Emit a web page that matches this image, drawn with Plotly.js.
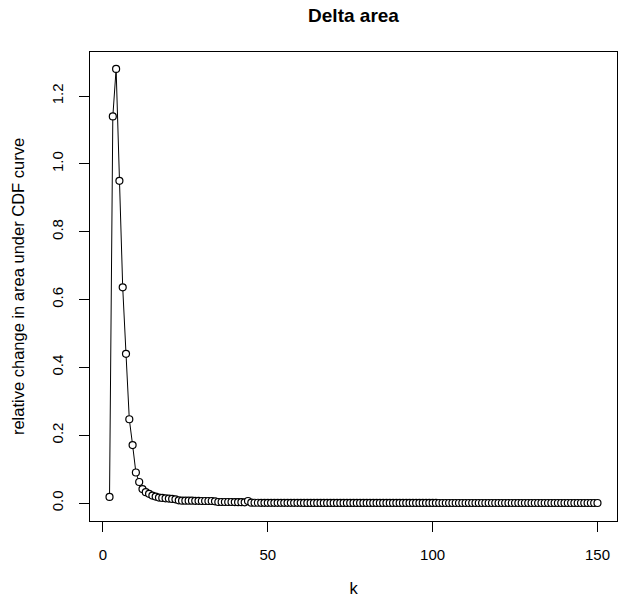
<!DOCTYPE html>
<html>
<head>
<meta charset="utf-8">
<script src="https://cdn.plot.ly/plotly-3.0.1.min.js"></script>
<style>html,body{margin:0;padding:0;background:#fff;}#chart{width:628px;height:606px;}</style>
</head>
<body>
<div id="chart"></div>
<script>
// k values 2..150
var kStart = 2, kEnd = 150;
var kValues = [];
for (var i = kStart; i <= kEnd; i++) kValues.push(i);

// relative change in area under CDF curve
var deltaArea = [
  0.018, 1.14, 1.28, 0.95, 0.636, 0.44, 0.247, 0.171, 0.09, 0.062,
  0.041, 0.032, 0.027, 0.022, 0.019, 0.016, 0.015, 0.014, 0.013, 0.012,
  0.011, 0.008, 0.007, 0.007, 0.007, 0.007, 0.0065, 0.0065, 0.006, 0.006,
  0.006, 0.006, 0.005, 0.003, 0.003, 0.003, 0.003, 0.003, 0.0028, 0.0026,
  0.0024, 0.002, 0.006, 0.001, 0.0008, 0.0008, 0.0007, 0.0007, 0.0007, 0.0006,
  0.0006, 0.0006, 0.0006, 0.0005, 0.0005, 0.0005, 0.0005, 0.0005, 0.0005, 0.0004,
  0.0004, 0.0004, 0.0004, 0.0004, 0.0004, 0.0004, 0.0004, 0.0003, 0.0003, 0.0003,
  0.0003, 0.0003, 0.0003, 0.0003, 0.0003, 0.0003, 0.0003, 0.0003, 0.0003, 0.0002,
  0.0002, 0.0002, 0.0002, 0.0002, 0.0002, 0.0002, 0.0002, 0.0002, 0.0002, 0.0002,
  0.0002, 0.0002, 0.0002, 0.0002, 0.0002, 0.0002, 0.0002, 0.0002, 0.0002, 0.0002,
  0.0001, 0.0001, 0.0001, 0.0001, 0.0001, 0.0001, 0.0001, 0.0001, 0.0001, 0.0001,
  0.0001, 0.0001, 0.0001, 0.0001, 0.0001, 0.0001, 0.0001, 0.0001, 0.0001, 0.0001,
  0.0001, 0.0001, 0.0001, 0.0001, 0.0001, 0.0001, 0.0001, 0.0001, 0.0001, 0.0001,
  0.0001, 0.0001, 0.0001, 0.0001, 0.0001, 0.0001, 0.0001, 0.0001, 0.0001, 0.0001,
  0.0001, 0.0001, 0.0001, 0.0001, 0.0001, 0.0001, 0.0001, 0.0001, 0.0001
];

var xTicks = [0, 50, 100, 150];
var yTicks = [0.0, 0.2, 0.4, 0.6, 0.8, 1.0, 1.2];
var yTickLabels = ["0.0", "0.2", "0.4", "0.6", "0.8", "1.0", "1.2"];

var titleText = "Delta area";
var xTitle = "k";
var yTitle = "relative change in area under CDF curve";

var font = "Liberation Sans, Arial, sans-serif";

var trace = {
  x: kValues,
  y: deltaArea,
  type: "scatter",
  mode: "lines+markers",
  line: {color: "#000", width: 1},
  marker: {symbol: "circle", size: 7, color: "#fff", line: {color: "#000", width: 1.2}},
  hoverinfo: "x+y"
};

var layout = {
  width: 628, height: 606,
  margin: {l: 90, r: 11, t: 52, b: 85},
  paper_bgcolor: "#fff", plot_bgcolor: "#fff",
  showlegend: false,
  font: {family: font, size: 15, color: "#000"},
  title: {text: "<b>" + titleText + "</b>", font: {family: font, size: 19, color: "#000"},
          x: 0.5, xref: "paper", y: 0.975, yref: "container", yanchor: "middle"},
  xaxis: {
    range: [-3.92, 155.92], tickvals: xTicks, ticktext: xTicks.map(String),
    ticks: "outside", ticklen: 10, tickwidth: 1, tickcolor: "#000",
    showgrid: false, zeroline: false, showline: true, mirror: true,
    linecolor: "#000", linewidth: 1, ticklabelstandoff: 10,
    tickfont: {size: 15, color: "#000"},
    title: {text: xTitle, font: {size: 16.5, color: "#000"}, standoff: 20}
  },
  yaxis: {
    range: [-0.053, 1.33], tickvals: yTicks, ticktext: yTickLabels,
    ticks: "outside", ticklen: 10, tickwidth: 1, tickcolor: "#000", tickangle: -90,
    showgrid: false, zeroline: false, showline: true, mirror: true,
    linecolor: "#000", linewidth: 1, ticklabelstandoff: 10,
    tickfont: {size: 15, color: "#000"},
    title: {text: yTitle, font: {size: 16.5, color: "#000"}, standoff: 20}
  }
};

Plotly.newPlot("chart", [trace], layout, {displayModeBar: false, staticPlot: true});
</script>
</body>
</html>
